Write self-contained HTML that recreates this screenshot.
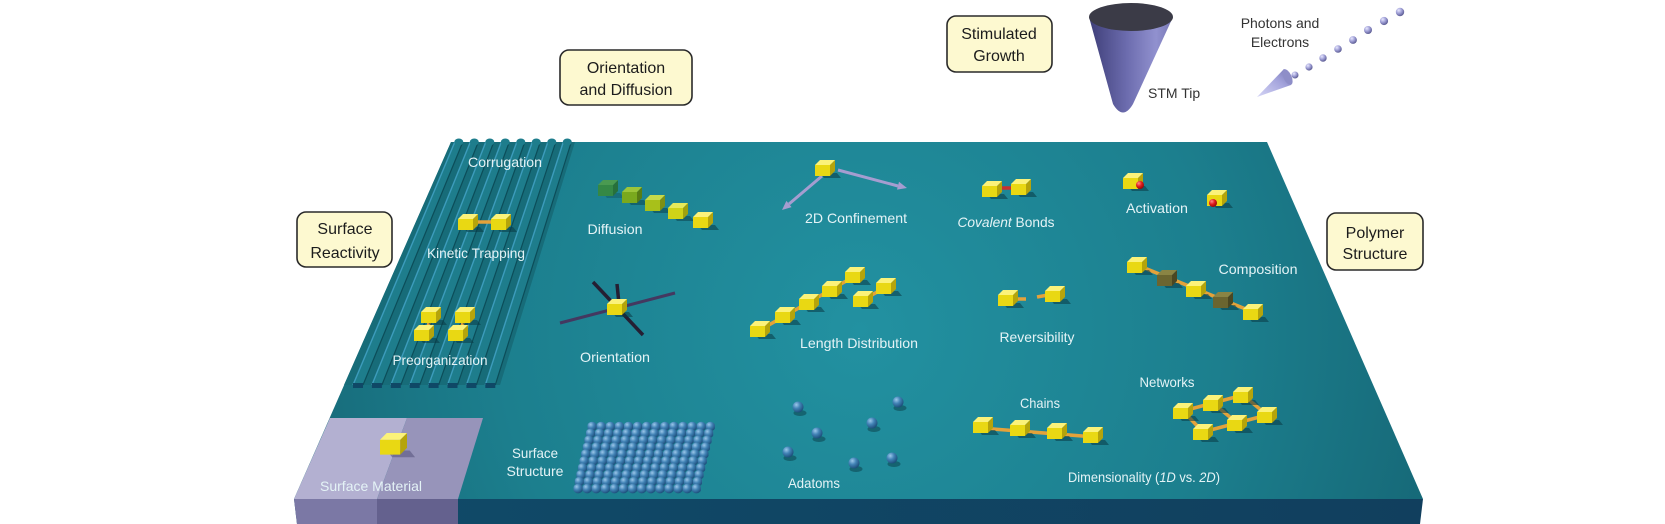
<!DOCTYPE html>
<html><head><meta charset="utf-8"><style>
html,body{margin:0;padding:0;background:#fff;overflow:hidden}
svg{display:block}
.lb{font-family:"Liberation Sans",sans-serif;font-size:14px;fill:#e4f3f6;text-anchor:middle}
.bx{font-family:"Liberation Sans",sans-serif;font-size:16px;fill:#1c1c1c;text-anchor:middle}
.dk{font-family:"Liberation Sans",sans-serif;font-size:14px;fill:#333}
</style></head><body>
<svg width="1665" height="524" viewBox="0 0 1665 524" xmlns="http://www.w3.org/2000/svg">
<defs>
<radialGradient id="pg" gradientUnits="userSpaceOnUse" cx="860" cy="330" r="600">
<stop offset="0" stop-color="#2291a1"/><stop offset="0.6" stop-color="#1c7f8e"/><stop offset="1" stop-color="#166877"/>
</radialGradient>
<linearGradient id="fg" x1="0" x2="1" y1="0" y2="0">
<stop offset="0" stop-color="#104b69"/><stop offset="1" stop-color="#113f5e"/>
</linearGradient>
<radialGradient id="sg" cx=".35" cy=".3" r=".75">
<stop offset="0" stop-color="#9cc8ea"/><stop offset=".45" stop-color="#4283b6"/><stop offset="1" stop-color="#1a4a76"/>
</radialGradient>
<radialGradient id="dg" cx=".35" cy=".3" r=".75">
<stop offset="0" stop-color="#e8e8ff"/><stop offset=".5" stop-color="#9d9dd4"/><stop offset="1" stop-color="#55558c"/>
</radialGradient>
<radialGradient id="rg" cx=".35" cy=".3" r=".75">
<stop offset="0" stop-color="#ff8a8a"/><stop offset=".5" stop-color="#e01a1a"/><stop offset="1" stop-color="#8a0808"/>
</radialGradient>
<linearGradient id="cone" x1="0" x2="1" y1="0" y2="0">
<stop offset="0" stop-color="#3e3e78"/><stop offset=".45" stop-color="#6c6cae"/><stop offset=".8" stop-color="#9191cf"/><stop offset="1" stop-color="#7676b4"/>
</linearGradient>
<linearGradient id="pc" x1="0" x2="1" y1="1" y2="0">
<stop offset="0" stop-color="#d6d6f6"/><stop offset=".6" stop-color="#a4a4dc"/><stop offset="1" stop-color="#7373b2"/>
</linearGradient>
<pattern id="sp" width="9.1" height="13" patternUnits="userSpaceOnUse">
<circle cx="4.55" cy="6.5" r="4.8" fill="url(#sg)"/>
</pattern>
<g id="cy">
<polygon points="5,13 22,13 26,18 9,18" fill="#093b45" opacity=".55"/>
<polygon points="0,5 15,5 15,16 0,16" fill="#e9d813"/>
<polygon points="15,5 20,0 20,11 15,16" fill="#b5a40b"/>
<polygon points="0,5 5,0 20,0 15,5" fill="#fbf27a"/>
</g>
<g id="cd">
<polygon points="5,13 22,13 26,18 9,18" fill="#093b45" opacity=".55"/>
<polygon points="0,5 15,5 15,16 0,16" fill="#6b6530"/>
<polygon points="15,5 20,0 20,11 15,16" fill="#4b4722"/>
<polygon points="0,5 5,0 20,0 15,5" fill="#8a8444"/>
</g>
<g id="ad">
<ellipse cx="2" cy="6" rx="6.5" ry="3" fill="#093b45" opacity=".5"/>
<circle cx="0" cy="0" r="5.5" fill="url(#sg)"/>
</g>
</defs>
<rect width="1665" height="524" fill="#fff"/>

<!-- plate -->
<polygon points="451,142 1267,142 1423,499 294,499" fill="url(#pg)"/>
<polygon points="294,499 1423,499 1420,524 297,524" fill="url(#fg)"/>

<!-- corrugation -->
<polygon points="451,142 575,142 500,385 344,385" fill="#176c79"/>
<g fill="#1e7d8c">
<polygon points="454.8,142 462.8,142 363,385 353,385"/>
<polygon points="470.3,142 478.3,142 381.9,385 371.9,385"/>
<polygon points="485.8,142 493.8,142 400.8,385 390.8,385"/>
<polygon points="501.3,142 509.3,142 419.7,385 409.7,385"/>
<polygon points="516.8,142 524.8,142 438.6,385 428.6,385"/>
<polygon points="532.3,142 540.3,142 457.5,385 447.5,385"/>
<polygon points="547.8,142 555.8,142 476.4,385 466.4,385"/>
<polygon points="563.3,142 571.3,142 495.3,385 485.3,385"/>
</g>
<g stroke="#43a3c6" stroke-width="1.4" opacity=".85">
<line x1="454.8" y1="142" x2="353" y2="385"/><line x1="470.3" y1="142" x2="371.9" y2="385"/>
<line x1="485.8" y1="142" x2="390.8" y2="385"/><line x1="501.3" y1="142" x2="409.7" y2="385"/>
<line x1="516.8" y1="142" x2="428.6" y2="385"/><line x1="532.3" y1="142" x2="447.5" y2="385"/>
<line x1="547.8" y1="142" x2="466.4" y2="385"/><line x1="563.3" y1="142" x2="485.3" y2="385"/>
</g>
<g stroke="#0c4d59" stroke-width="1.2">
<line x1="462.8" y1="142" x2="363" y2="385"/><line x1="478.3" y1="142" x2="381.9" y2="385"/>
<line x1="493.8" y1="142" x2="400.8" y2="385"/><line x1="509.3" y1="142" x2="419.7" y2="385"/>
<line x1="524.8" y1="142" x2="438.6" y2="385"/><line x1="540.3" y1="142" x2="457.5" y2="385"/>
<line x1="555.8" y1="142" x2="476.4" y2="385"/><line x1="571.3" y1="142" x2="495.3" y2="385"/>
</g>
<g fill="#1e7d8c">
<ellipse cx="458.8" cy="142" rx="4.5" ry="3.5"/><ellipse cx="474.3" cy="142" rx="4.5" ry="3.5"/>
<ellipse cx="489.8" cy="142" rx="4.5" ry="3.5"/><ellipse cx="505.3" cy="142" rx="4.5" ry="3.5"/>
<ellipse cx="520.8" cy="142" rx="4.5" ry="3.5"/><ellipse cx="536.3" cy="142" rx="4.5" ry="3.5"/>
<ellipse cx="551.8" cy="142" rx="4.5" ry="3.5"/><ellipse cx="567.3" cy="142" rx="4.5" ry="3.5"/>
</g>
<g fill="#0f4866">
<rect x="353" y="383" width="10" height="5"/><rect x="371.9" y="383" width="10" height="5"/>
<rect x="390.8" y="383" width="10" height="5"/><rect x="409.7" y="383" width="10" height="5"/>
<rect x="428.6" y="383" width="10" height="5"/><rect x="447.5" y="383" width="10" height="5"/>
<rect x="466.4" y="383" width="10" height="5"/><rect x="485.3" y="383" width="10" height="5"/>
</g>

<!-- surface material -->
<polygon points="330,418 407,418 377,499 294,499" fill="#b3b0d1"/>
<polygon points="407,418 483,418 458,499 377,499" fill="#9794ba"/>
<polygon points="294,499 377,499 377,524 297,524" fill="#7b78a5"/>
<polygon points="377,499 458,499 458,524 377,524" fill="#64618e"/>
<g transform="translate(380,433) scale(1.35)">
<polygon points="5,13 22,13 26,18 9,18" fill="#5a5780" opacity=".6"/>
<polygon points="0,5 15,5 15,16 0,16" fill="#e9d813"/>
<polygon points="15,5 20,0 20,11 15,16" fill="#b5a40b"/>
<polygon points="0,5 5,0 20,0 15,5" fill="#fbf27a"/>
</g>

<!-- surface structure grid -->
<g>
<rect transform="translate(587.5,420)" width="127.4" height="13" fill="url(#sp)"/>
<rect transform="translate(585.9,426.9)" width="127.4" height="13" fill="url(#sp)"/>
<rect transform="translate(584.3,433.8)" width="127.4" height="13" fill="url(#sp)"/>
<rect transform="translate(582.7,440.7)" width="127.4" height="13" fill="url(#sp)"/>
<rect transform="translate(581.1,447.6)" width="127.4" height="13" fill="url(#sp)"/>
<rect transform="translate(579.5,454.5)" width="127.4" height="13" fill="url(#sp)"/>
<rect transform="translate(577.9,461.4)" width="127.4" height="13" fill="url(#sp)"/>
<rect transform="translate(576.3,468.3)" width="127.4" height="13" fill="url(#sp)"/>
<rect transform="translate(574.7,475.2)" width="127.4" height="13" fill="url(#sp)"/>
<rect transform="translate(573.5,482.1)" width="127.4" height="13" fill="url(#sp)"/>
</g>

<!-- kinetic trapping -->
<line x1="470" y1="222" x2="496" y2="222" stroke="#e4a23a" stroke-width="3.5"/>
<use href="#cy" x="458" y="214"/><use href="#cy" x="491" y="214"/>
<!-- preorganization -->
<line x1="431" y1="316" x2="427" y2="330" stroke="#e4a23a" stroke-width="3.5"/>
<line x1="465" y1="316" x2="461" y2="330" stroke="#e4a23a" stroke-width="3.5"/>
<use href="#cy" x="421" y="307"/><use href="#cy" x="455" y="307"/>
<use href="#cy" x="414" y="325"/><use href="#cy" x="448" y="325"/>

<!-- diffusion -->
<g>
<g transform="translate(598,180)" opacity=".75"><polygon points="5,13 22,13 26,18 9,18" fill="#093b45" opacity=".4"/><polygon points="0,5 15,5 15,16 0,16" fill="#3e8a2c"/><polygon points="15,5 20,0 20,11 15,16" fill="#2b6a1f"/><polygon points="0,5 5,0 20,0 15,5" fill="#5aa33c"/></g>
<g transform="translate(622,187)"><polygon points="5,13 22,13 26,18 9,18" fill="#093b45" opacity=".45"/><polygon points="0,5 15,5 15,16 0,16" fill="#7aa91e"/><polygon points="15,5 20,0 20,11 15,16" fill="#587d14"/><polygon points="0,5 5,0 20,0 15,5" fill="#9cc53a"/></g>
<g transform="translate(645,195)"><polygon points="5,13 22,13 26,18 9,18" fill="#093b45" opacity=".5"/><polygon points="0,5 15,5 15,16 0,16" fill="#a8c01a"/><polygon points="15,5 20,0 20,11 15,16" fill="#7d8f12"/><polygon points="0,5 5,0 20,0 15,5" fill="#c6da4a"/></g>
<g transform="translate(668,203)"><polygon points="5,13 22,13 26,18 9,18" fill="#093b45" opacity=".5"/><polygon points="0,5 15,5 15,16 0,16" fill="#cfd318"/><polygon points="15,5 20,0 20,11 15,16" fill="#9fa20f"/><polygon points="0,5 5,0 20,0 15,5" fill="#e6ea5a"/></g>
<use href="#cy" x="693" y="212"/>
</g>

<!-- 2D confinement -->
<g stroke="#a59dd0" stroke-width="3" fill="none">
<line x1="822" y1="176" x2="789" y2="204"/>
<line x1="838" y1="170" x2="898" y2="186"/>
</g>
<polygon points="782,210 791.6,207.1 786.4,200.9" fill="#a59dd0"/>
<polygon points="907,188 897,189.6 899,181.8" fill="#a59dd0"/>
<use href="#cy" x="815" y="160"/>

<!-- orientation -->
<line x1="560" y1="323" x2="675" y2="293" stroke="#443860" stroke-width="3"/>
<line x1="593" y1="282" x2="643" y2="335" stroke="#251f33" stroke-width="3.5"/>
<line x1="617" y1="284" x2="619" y2="304" stroke="#251f33" stroke-width="3.5"/>
<use href="#cy" x="607" y="299"/>

<!-- length distribution -->
<line x1="760" y1="330" x2="855" y2="276" stroke="#e4a23a" stroke-width="3.5"/>
<line x1="863" y1="300" x2="886" y2="287" stroke="#e4a23a" stroke-width="3.5"/>
<use href="#cy" x="750" y="321"/><use href="#cy" x="775" y="307"/><use href="#cy" x="799" y="294"/>
<use href="#cy" x="822" y="281"/><use href="#cy" x="845" y="267"/>
<use href="#cy" x="876" y="278"/><use href="#cy" x="853" y="291"/>

<!-- covalent bonds -->
<line x1="996" y1="188" x2="1015" y2="188" stroke="#c83030" stroke-width="3.5"/>
<use href="#cy" x="982" y="181"/><use href="#cy" x="1011" y="179"/>

<!-- activation -->
<use href="#cy" x="1123" y="173"/><circle cx="1140" cy="185" r="4" fill="url(#rg)"/>
<use href="#cy" x="1207" y="190"/><circle cx="1213" cy="203" r="4" fill="url(#rg)"/>

<!-- composition -->
<line x1="1137" y1="265" x2="1253" y2="312" stroke="#e4a23a" stroke-width="3.5"/>
<use href="#cy" x="1127" y="257"/><use href="#cd" x="1157" y="270"/><use href="#cy" x="1186" y="281"/>
<use href="#cd" x="1213" y="292"/><use href="#cy" x="1243" y="304"/>

<!-- reversibility -->
<line x1="1012" y1="299" x2="1026" y2="299" stroke="#e4a23a" stroke-width="3.5"/>
<line x1="1037" y1="297" x2="1048" y2="295" stroke="#e4a23a" stroke-width="3.5"/>
<use href="#cy" x="998" y="290"/><use href="#cy" x="1045" y="286"/>

<!-- adatoms -->
<use href="#ad" x="798" y="407"/><use href="#ad" x="898" y="402"/><use href="#ad" x="817" y="433"/>
<use href="#ad" x="872" y="423"/><use href="#ad" x="788" y="452"/><use href="#ad" x="854" y="463"/>
<use href="#ad" x="892" y="458"/>

<!-- chains -->
<line x1="980" y1="428" x2="1095" y2="437" stroke="#e4a23a" stroke-width="3.5"/>
<use href="#cy" x="973" y="417"/><use href="#cy" x="1010" y="420"/><use href="#cy" x="1047" y="423"/><use href="#cy" x="1083" y="427"/>

<!-- networks -->
<g stroke="#e4a23a" stroke-width="3.5">
<line x1="1183" y1="411" x2="1243" y2="395"/>
<line x1="1203" y1="432" x2="1267" y2="415"/>
<line x1="1183" y1="411" x2="1203" y2="432"/>
<line x1="1213" y1="403" x2="1237" y2="423"/>
<line x1="1243" y1="395" x2="1267" y2="415"/>
</g>
<use href="#cy" x="1233" y="387"/><use href="#cy" x="1203" y="395"/><use href="#cy" x="1173" y="403"/>
<use href="#cy" x="1257" y="407"/><use href="#cy" x="1227" y="415"/><use href="#cy" x="1193" y="424"/>

<!-- plate labels -->
<text class="lb" x="505" y="167" textLength="74" lengthAdjust="spacingAndGlyphs">Corrugation</text>
<text class="lb" x="476" y="258" textLength="98" lengthAdjust="spacingAndGlyphs">Kinetic Trapping</text>
<text class="lb" x="440" y="365" textLength="95" lengthAdjust="spacingAndGlyphs">Preorganization</text>
<text class="lb" x="371" y="491" textLength="102" lengthAdjust="spacingAndGlyphs">Surface Material</text>
<text class="lb" x="535" y="458" textLength="46" lengthAdjust="spacingAndGlyphs">Surface</text>
<text class="lb" x="535" y="476" textLength="57" lengthAdjust="spacingAndGlyphs">Structure</text>
<text class="lb" x="615" y="234" textLength="55" lengthAdjust="spacingAndGlyphs">Diffusion</text>
<text class="lb" x="856" y="223" textLength="102" lengthAdjust="spacingAndGlyphs">2D Confinement</text>
<text class="lb" x="615" y="362" textLength="70" lengthAdjust="spacingAndGlyphs">Orientation</text>
<text class="lb" x="859" y="348" textLength="118" lengthAdjust="spacingAndGlyphs">Length Distribution</text>
<text class="lb" x="1006" y="227" textLength="97" lengthAdjust="spacingAndGlyphs"><tspan font-style="italic">Covalent</tspan> Bonds</text>
<text class="lb" x="1157" y="213" textLength="62" lengthAdjust="spacingAndGlyphs">Activation</text>
<text class="lb" x="1258" y="274" textLength="79" lengthAdjust="spacingAndGlyphs">Composition</text>
<text class="lb" x="1037" y="342" textLength="75" lengthAdjust="spacingAndGlyphs">Reversibility</text>
<text class="lb" x="814" y="488" textLength="52" lengthAdjust="spacingAndGlyphs">Adatoms</text>
<text class="lb" x="1040" y="408" textLength="40" lengthAdjust="spacingAndGlyphs">Chains</text>
<text class="lb" x="1167" y="387" textLength="55" lengthAdjust="spacingAndGlyphs">Networks</text>
<text class="lb" x="1144" y="482" textLength="152" lengthAdjust="spacingAndGlyphs">Dimensionality (<tspan font-style="italic">1D</tspan> vs. <tspan font-style="italic">2D</tspan>)</text>

<!-- boxes -->
<rect x="560" y="50" width="132" height="55" rx="9" fill="#fdf9d0" stroke="#2a2a2a" stroke-width="1.6"/>
<text class="bx" x="626" y="73">Orientation</text>
<text class="bx" x="626" y="95">and Diffusion</text>
<rect x="297" y="212" width="95" height="55" rx="9" fill="#fdf9d0" stroke="#2a2a2a" stroke-width="1.6"/>
<text class="bx" x="345" y="234">Surface</text>
<text class="bx" x="345" y="258">Reactivity</text>
<rect x="947" y="16" width="105" height="56" rx="9" fill="#fdf9d0" stroke="#2a2a2a" stroke-width="1.6"/>
<text class="bx" x="999" y="39">Stimulated</text>
<text class="bx" x="999" y="61">Growth</text>
<rect x="1327" y="213" width="96" height="57" rx="9" fill="#fdf9d0" stroke="#2a2a2a" stroke-width="1.6"/>
<text class="bx" x="1375" y="238">Polymer</text>
<text class="bx" x="1375" y="259">Structure</text>

<!-- STM tip -->
<path d="M1089,17 L1113,104 Q1123,121 1133,104 L1173,17 Z" fill="url(#cone)"/>
<ellipse cx="1131" cy="17" rx="42" ry="14" fill="#3b3b47"/>
<text class="dk" x="1148" y="98">STM Tip</text>

<!-- photons -->
<polygon points="1257,97 1284,69 1291,85" fill="url(#pc)"/>
<ellipse cx="1287.5" cy="77" rx="4" ry="8.5" transform="rotate(-25 1287.5 77)" fill="#8e8ec8"/>
<circle cx="1295" cy="75" r="3.5" fill="url(#dg)"/>
<circle cx="1309" cy="67" r="3.6" fill="url(#dg)"/>
<circle cx="1323" cy="58" r="3.7" fill="url(#dg)"/>
<circle cx="1338" cy="49" r="3.8" fill="url(#dg)"/>
<circle cx="1353" cy="40" r="3.9" fill="url(#dg)"/>
<circle cx="1368" cy="30" r="4" fill="url(#dg)"/>
<circle cx="1384" cy="21" r="4.1" fill="url(#dg)"/>
<circle cx="1400" cy="12" r="4.2" fill="url(#dg)"/>
<text class="dk" x="1280" y="28" text-anchor="middle">Photons and</text>
<text class="dk" x="1280" y="47" text-anchor="middle">Electrons</text>
</svg>
</body></html>
